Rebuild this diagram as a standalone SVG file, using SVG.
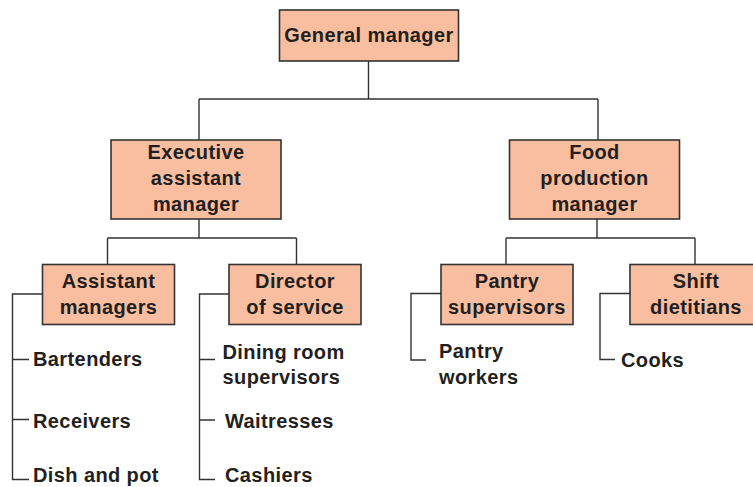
<svg xmlns="http://www.w3.org/2000/svg" width="753" height="487" viewBox="0 0 753 487">
<style>
.box{fill:#f9be9f;stroke:#333;stroke-width:1.6}
.ln{fill:none;stroke:#333;stroke-width:1.4}
text{font-family:"Liberation Sans",Arial,sans-serif;font-weight:bold;font-size:20px;fill:#231f20;letter-spacing:0.4px}
.c{text-anchor:middle}
</style>
<rect width="753" height="487" fill="#fff"/>
<g id="connectors">
<path class="ln" d="M368.5 61V99M199 99H598M199 99V140M598 99V140"/>
<path class="ln" d="M199 219V238M107.5 238H296.5M107.5 238V264M296.5 238V264"/>
<path class="ln" d="M597 219V238M506 238H695M506 238V264M695 238V264"/>
<path class="ln" d="M42 294H12.5V479.5H29M12.5 359.5H29M12.5 419.5H29"/>
<path class="ln" d="M229 294H199.5V479.5H215M199.5 359.5H215M199.5 420H215"/>
<path class="ln" d="M441 293.5H411V360H426"/>
<path class="ln" d="M630 293.5H600V359.5H615"/>
</g>
<g id="n-general"><rect class="box" x="279.5" y="10" width="179" height="51"/><text class="c" x="369" y="42">General manager</text></g>
<g id="n-exec"><rect class="box" x="111" y="140" width="170" height="79"/><text class="c" x="196" y="159">Executive</text><text class="c" x="196" y="185">assistant</text><text class="c" x="196" y="211">manager</text></g>
<g id="n-food"><rect class="box" x="509.5" y="140" width="170" height="79"/><text class="c" x="594.5" y="159">Food</text><text class="c" x="594.5" y="185">production</text><text class="c" x="594.5" y="211">manager</text></g>
<g id="n-asst"><rect class="box" x="42.5" y="264.5" width="132" height="60"/><text class="c" x="108.5" y="288">Assistant</text><text class="c" x="108.5" y="314">managers</text></g>
<g id="n-director"><rect class="box" x="229" y="264.5" width="132" height="60"/><text class="c" x="295" y="288">Director</text><text class="c" x="295" y="314">of service</text></g>
<g id="n-pantry"><rect class="box" x="441" y="264.5" width="132" height="60"/><text class="c" x="507" y="288">Pantry</text><text class="c" x="507" y="314">supervisors</text></g>
<g id="n-shift"><rect class="box" x="630" y="264.5" width="132" height="60"/><text class="c" x="696" y="288">Shift</text><text class="c" x="696" y="314">dietitians</text></g>
<g id="n-bartenders"><text x="33" y="366">Bartenders</text></g>
<g id="n-receivers"><text x="33" y="428">Receivers</text></g>
<g id="n-dish"><text x="33" y="482">Dish and pot</text></g>
<g id="n-dining"><text x="222.5" y="359">Dining room</text><text x="222.5" y="384">supervisors</text></g>
<g id="n-waitresses"><text x="225" y="428">Waitresses</text></g>
<g id="n-cashiers"><text x="225" y="482">Cashiers</text></g>
<g id="n-pworkers"><text x="439" y="358">Pantry</text><text x="439" y="384">workers</text></g>
<g id="n-cooks"><text x="621" y="367">Cooks</text></g>
</svg>
